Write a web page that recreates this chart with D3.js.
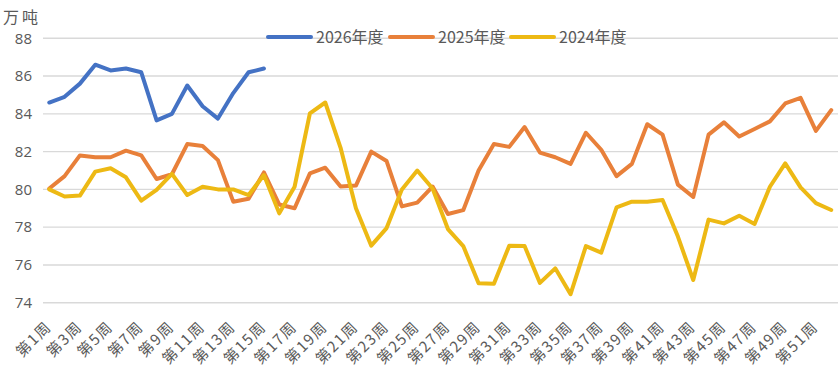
<!DOCTYPE html>
<html><head><meta charset="utf-8">
<script src="https://cdn.jsdelivr.net/npm/d3@7/dist/d3.min.js"></script>
<style>
html,body{margin:0;padding:0;background:#fff;}
svg{display:block;}
</style></head>
<body>
<svg id="c" width="840" height="373"></svg>
<script>
const weeks = ["第1周","第2周","第3周","第4周","第5周","第6周","第7周","第8周","第9周","第10周",
"第11周","第12周","第13周","第14周","第15周","第16周","第17周","第18周","第19周","第20周",
"第21周","第22周","第23周","第24周","第25周","第26周","第27周","第28周","第29周","第30周",
"第31周","第32周","第33周","第34周","第35周","第36周","第37周","第38周","第39周","第40周",
"第41周","第42周","第43周","第44周","第45周","第46周","第47周","第48周","第49周","第50周",
"第51周","第52周"];
const seriesNames = ["2026年度","2025年度","2024年度"];
const s2026 = [84.6,84.9,85.6,86.6,86.3,86.4,86.2,83.65,84.0,85.5,84.4,83.75,85.1,86.2,86.4];
const s2025 = [80.05,80.7,81.8,81.7,81.7,82.05,81.8,80.55,80.8,82.4,82.3,81.55,79.35,79.5,80.9,79.2,79.0,80.85,81.15,80.15,80.2,82.0,81.5,79.1,79.3,80.15,78.7,78.9,81.0,82.4,82.25,83.3,81.95,81.7,81.35,83.0,82.1,80.7,81.35,83.45,82.9,80.25,79.6,82.9,83.55,82.8,83.2,83.6,84.55,84.85,83.1,84.2];
const s2024 = [80.0,79.62,79.67,80.94,81.12,80.64,79.4,79.97,80.82,79.7,80.14,80.0,80.0,79.7,80.76,78.73,80.14,84.03,84.6,82.2,79.0,77.02,77.95,80.0,81.0,80.05,77.9,77.0,75.03,75.0,77.02,77.0,75.05,75.82,74.45,77.0,76.65,79.05,79.35,79.35,79.44,77.5,75.2,78.4,78.2,78.6,78.17,80.14,81.38,80.11,79.27,78.91];
const yTicks = [74,76,78,80,82,84,86,88];
const unitLabel = "万吨";

const colors = ["#4472C4","#E8803A","#EDB914"];
const textColor = "#595959";
const svg = d3.select("#c");

const x = d3.scalePoint().domain(weeks).range([41.6, 838.9]).padding(0.5);
const y = d3.scaleLinear().domain([74,88]).range([302.7, 38.3]);

// gridlines
svg.append("g").selectAll("line").data(yTicks).join("line")
  .attr("x1",43).attr("x2",838)
  .attr("y1",d=>y(d)).attr("y2",d=>y(d))
  .attr("stroke","#d9d9d9").attr("stroke-width",1.4);

// y axis labels
const yAxis = d3.axisLeft(y).tickValues(yTicks).tickSize(0).tickPadding(0);
const ya = svg.append("g").attr("transform","translate(32,0)").call(yAxis);
ya.select(".domain").remove();
ya.selectAll("text").attr("font-family","'Open Sans','DejaVu Sans',sans-serif")
  .attr("font-size",15).attr("fill",textColor);

svg.append("text").attr("x",3).attr("y",23).text(unitLabel)
  .attr("font-family","'Noto Sans CJK SC',sans-serif").attr("font-size",16)
  .attr("letter-spacing","3px").attr("fill",textColor);

// x axis labels
const xa = svg.append("g").attr("transform","translate(0,313)")
  .call(d3.axisBottom(x).tickValues(weeks.filter((d,i)=>i%2===0)).tickSize(0).tickPadding(0));
xa.select(".domain").remove();
xa.selectAll("text")
  .attr("font-family","'Noto Sans CJK SC',sans-serif").attr("font-size",15).attr("fill",textColor)
  .attr("letter-spacing","1.5px")
  .attr("text-anchor","end").attr("dy","0.35em").attr("y",0).attr("x",0)
  .attr("transform","translate(-1,11) rotate(-45)");

// lines
const line = d3.line().x((d,i)=>x(weeks[i])).y(d=>y(d));
const data = [s2026,s2025,s2024];
[1,2,0].forEach(k=>{
  svg.append("path").datum(data[k]).attr("d",line)
    .attr("fill","none").attr("stroke",colors[k]).attr("stroke-width",4)
    .attr("stroke-linejoin","round").attr("stroke-linecap","round");
});

// legend
const legendX = [268,390,511];
const lg = svg.append("g");
seriesNames.forEach((n,i)=>{
  lg.append("line").attr("x1",legendX[i]).attr("x2",legendX[i]+43).attr("y1",37).attr("y2",37)
    .attr("stroke",colors[i]).attr("stroke-width",4).attr("stroke-linecap","round");
  lg.append("text").attr("x",legendX[i]+48).attr("y",37).attr("dy","0.35em").text(n)
    .attr("font-family","'Noto Sans CJK SC',sans-serif").attr("font-size",16).attr("fill",textColor);
});
</script>
</body></html>
